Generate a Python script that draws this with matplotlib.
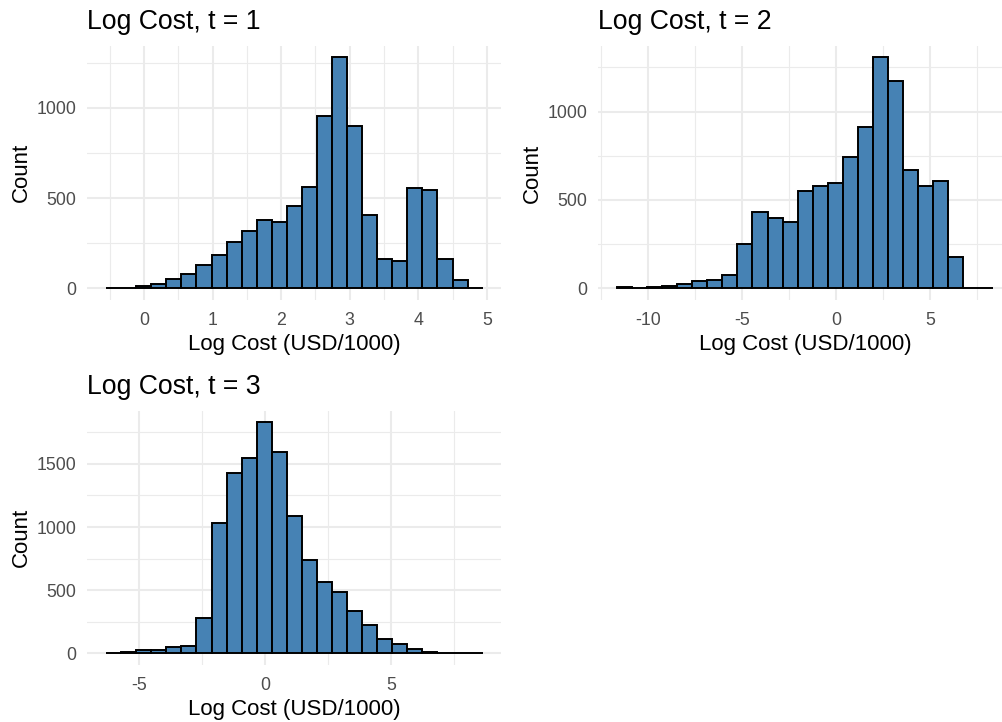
import matplotlib
matplotlib.use("Agg")
import matplotlib.pyplot as plt
import numpy as np

plt.rcParams['font.family'] = ['Liberation Sans', 'DejaVu Sans']
plt.rcParams['axes.unicode_minus'] = False

# histogram counts (25 bins each)
counts_t1 = [3, 3, 13, 24, 50, 78, 129, 183, 257, 320, 377, 370, 455,
             562, 954, 1281, 898, 405, 163, 152, 556, 543, 164, 44, 4]
counts_t2 = [6, 4, 9, 15, 23, 43, 49, 75, 251, 434, 400, 373, 552,
             579, 598, 741, 912, 1306, 1172, 669, 577, 607, 177, 4, 3]
counts_t3 = [3, 13, 29, 26, 48, 61, 282, 1035, 1431, 1544, 1830, 1590,
             1085, 739, 562, 488, 335, 222, 116, 77, 32, 13, 5, 3, 2]

# first bin edge and bin width of each histogram
start_t1, width_t1 = -0.555, 0.2198
start_t2, width_t2 = -11.63, 0.80
start_t3, width_t3 = -6.30, 0.598

titles = ["Log Cost, t = 1", "Log Cost, t = 2", "Log Cost, t = 3"]
xlabel = "Log Cost (USD/1000)"
ylabel = "Count"

xmajor = [np.arange(0, 6, 1), np.arange(-10, 10, 5), np.arange(-5, 10, 5)]
ymajor = [np.arange(0, 1500, 500), np.arange(0, 1500, 500), np.arange(0, 2000, 500)]

W, H = 1002, 722
fig = plt.figure(figsize=(W / 100, H / 100), dpi=100)


def px_axes(left, top, right, bottom):
    return fig.add_axes([left / W, 1 - bottom / H, (right - left) / W, (bottom - top) / H])


boxes = [(87.3, 45.5, 501.5, 300.0),
         (598.3, 45.9, 1012.0, 299.9),
         (87.3, 410.6, 501.5, 664.9)]
data = [(counts_t1, start_t1, width_t1),
        (counts_t2, start_t2, width_t2),
        (counts_t3, start_t3, width_t3)]

for i in range(3):
    ax = px_axes(*boxes[i])
    counts, start, w = data[i]
    n = len(counts)
    edges = start + w * np.arange(n)
    ax.bar(edges, counts, width=w, align='edge', color='#4682B4',
           edgecolor='black', linewidth=1.4, zorder=3)

    # grid: major ticks plus minor ones halfway between
    xm = xmajor[i]
    ym = ymajor[i]
    xstep = xm[1] - xm[0]
    ax.set_xticks(xm)
    ax.set_xticks(np.arange(xm[0] - xstep / 2, xm[-1] + xstep, xstep), minor=True)
    ax.set_yticks(ym)
    ax.set_yticks(np.arange(250, ym[-1] + 500, 500), minor=True)

    span = n * w
    ax.set_xlim(start - 0.05 * span, start + 1.05 * span)
    top = max(counts)
    ax.set_ylim(-0.05 * top, 1.05 * top)

    ax.grid(which='major', color='#EBEBEB', linewidth=1.5, zorder=0)
    ax.grid(which='minor', color='#EBEBEB', linewidth=0.8, zorder=0)
    ax.set_axisbelow(True)
    for s in ax.spines.values():
        s.set_visible(False)
    ax.tick_params(which='both', length=0, labelsize=12.8, labelcolor='#4D4D4D')
    ax.tick_params(axis='x', pad=8.5)
    ax.tick_params(axis='y', pad=8)

    ax.set_title(titles[i], loc='left', fontsize=19.2, pad=12)
    ax.set_xlabel(xlabel, fontsize=16, labelpad=4)
    ax.set_ylabel(ylabel, fontsize=16, labelpad=3.5)

fig.savefig("out.png", dpi=100)
